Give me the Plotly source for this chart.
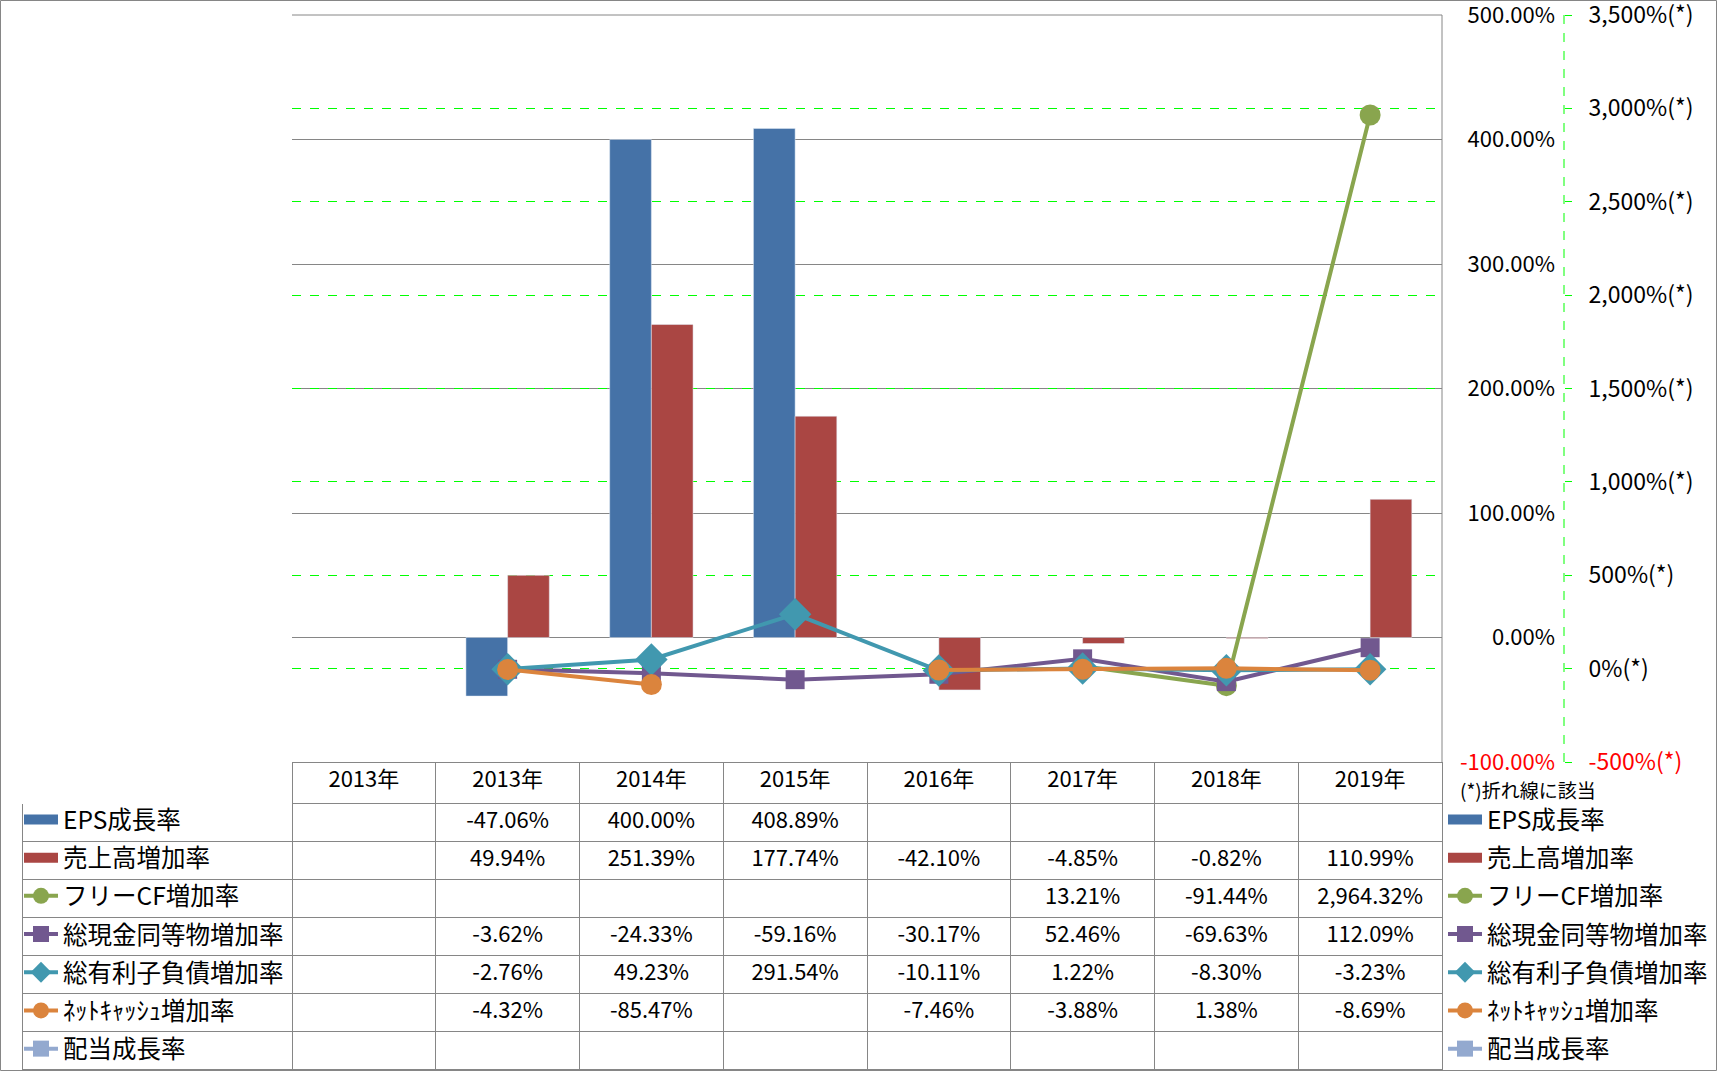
import plotly.graph_objects as go

W, H = 1717, 1071

# ---------------- data ----------------
categories = ["2013年", "2013年", "2014年", "2015年", "2016年", "2017年", "2018年", "2019年"]
eps_growth = [None, -47.06, 400.00, 408.89, None, None, None, None]
sales_growth = [None, 49.94, 251.39, 177.74, -42.10, -4.85, -0.82, 110.99]
fcf_growth = [None, None, None, None, None, 13.21, -91.44, 2964.32]
cash_growth = [None, -3.62, -24.33, -59.16, -30.17, 52.46, -69.63, 112.09]
debt_growth = [None, -2.76, 49.23, 291.54, -10.11, 1.22, -8.30, -3.23]
netcash_growth = [None, -4.32, -85.47, None, -7.46, -3.88, 1.38, -8.69]
dividend_growth = [None, None, None, None, None, None, None, None]

names = ["EPS成長率", "売上高増加率", "フリーCF増加率", "総現金同等物増加率",
         "総有利子負債増加率", "ﾈｯﾄｷｬｯｼｭ増加率", "配当成長率"]
series = [eps_growth, sales_growth, fcf_growth, cash_growth,
          debt_growth, netcash_growth, dividend_growth]

y1_ticks = [-100, 0, 100, 200, 300, 400, 500]
y2_ticks = [-500, 0, 500, 1000, 1500, 2000, 2500, 3000, 3500]

# ---------------- style ----------------
colors = ["#4572A7", "#AA4643", "#89A54E", "#71588F", "#4198AF", "#DB843D", "#93A9CF"]
symbols = [None, None, "circle", "square", "diamond", "circle", "square"]
msizes = [None, None, 21, 19, 25, 21, 19]
FONT = "Noto Sans CJK JP, Noto Sans, sans-serif"
GRAY = "#868686"
GREEN = "#00FF00"

xpos = list(range(len(categories)))

def px(x):
    return x / W

def py(y):
    return 1 - y / H

plot_l, plot_r, plot_t, plot_b = 292, 1442, 15, 762
HEADER_H, ROW_H = 41, 38
LEG_FONT = 24.5
LEG_GAP = ROW_H - (LEG_FONT * 1.3 + 3) + 0.2
BW = 0.29

fig = go.Figure()

# bars (primary axis)
fig.add_trace(go.Bar(x=xpos, y=eps_growth, marker_color=colors[0], width=BW, offset=-BW,
                     showlegend=False, name=names[0], yaxis="y"))
fig.add_trace(go.Bar(x=xpos, y=sales_growth, marker_color=colors[1], width=BW, offset=0,
                     showlegend=False, name=names[1], yaxis="y"))

def legend_entries(legend_id):
    out = []
    for i, nm in enumerate(names):
        if symbols[i] is None:
            out.append(go.Scatter(x=[None], y=[None], mode="lines", name=nm,
                                  line=dict(color=colors[i], width=13),
                                  legend=legend_id, legendgroup=legend_id + str(i),
                                  yaxis="y2"))
        else:
            out.append(go.Scatter(x=[None], y=[None], mode="lines+markers", name=nm,
                                  line=dict(color=colors[i], width=4),
                                  marker=dict(symbol=symbols[i], size=msizes[i], color=colors[i]),
                                  legend=legend_id, legendgroup=legend_id + str(i),
                                  yaxis="y2"))
    return out

# line series (secondary axis)
for i in range(2, 7):
    fig.add_trace(go.Scatter(x=xpos, y=series[i], mode="lines+markers", name=names[i],
                             line=dict(color=colors[i], width=4),
                             marker=dict(symbol=symbols[i], size=msizes[i], color=colors[i]),
                             connectgaps=False, showlegend=False, yaxis="y2"))

for tr in legend_entries("legend"):
    fig.add_trace(tr)
for tr in legend_entries("legend2"):
    fig.add_trace(tr)

# ---------------- table ----------------
def fmt(v):
    return "" if v is None else f"{v:,.2f}%"

table_cols = [[""] * len(names)]
for j in range(len(categories)):
    table_cols.append([fmt(series[k][j]) for k in range(len(names))])

col_w = (plot_r - plot_l) / len(categories)
fig.add_trace(go.Table(
    domain=dict(x=[px(22), px(plot_r)], y=[0, py(plot_b)]),
    columnwidth=[plot_l - 22] + [col_w] * len(categories),
    header=dict(values=[""] + categories, height=HEADER_H,
                line=dict(color=["white"] + [GRAY] * len(categories), width=1),
                fill=dict(color="white"), align="center",
                font=dict(family=FONT, size=22, color="black")),
    cells=dict(values=table_cols, height=ROW_H,
               line=dict(color=GRAY, width=1), fill=dict(color="white"),
               align="center", font=dict(family=FONT, size=22, color="black")),
))

# ---------------- axes ----------------
y1_text = [f"{v:.2f}%" for v in y1_ticks]
y1_text[0] = f"<span style='color:red'>{y1_text[0]}</span>"
y2_text = [f"{v:,}%(*)" for v in y2_ticks]
y2_text[0] = f"<span style='color:red'>{y2_text[0]}</span>"

leg_top = plot_b + HEADER_H - 6

fig.update_layout(
    width=W, height=H, margin=dict(l=0, r=0, t=0, b=0, autoexpand=False),
    paper_bgcolor="white", plot_bgcolor="white",
    barmode="overlay",
    font=dict(family=FONT, size=22, color="black"),
    xaxis=dict(domain=[px(plot_l), px(plot_r)], range=[-0.5, len(categories) - 0.5],
               showticklabels=False, showgrid=False, zeroline=False, ticks="",
               fixedrange=True),
    yaxis=dict(domain=[py(plot_b), py(plot_t)], range=[-100, 500],
               tickvals=y1_ticks, ticktext=y1_text, ticklabeloverflow="allow",
               anchor="free", side="left", position=px(1555), automargin=False,
               showgrid=True, gridcolor=GRAY, gridwidth=1, zeroline=False,
               showline=False, ticks="", tickfont=dict(family=FONT, size=22, color="black")),
    yaxis2=dict(overlaying="y", range=[-500, 3500], tickvals=y2_ticks, ticktext=y2_text,
                ticklabeloverflow="allow", automargin=False,
                anchor="free", side="right", position=px(1564),
                showgrid=True, gridcolor=GREEN, gridwidth=1, griddash="dash",
                zeroline=False, showline=False, ticks="outside", ticklen=7,
                tickcolor=GREEN, tickwidth=1, ticklabelstandoff=12,
                tickfont=dict(family=FONT, size=23, color="black")),
    legend=dict(x=px(19), y=py(leg_top), xanchor="left", yanchor="top",
                bgcolor="rgba(0,0,0,0)", borderwidth=0, traceorder="grouped",
                tracegroupgap=LEG_GAP, itemwidth=34,
                font=dict(family=FONT, size=LEG_FONT, color="black")),
    legend2=dict(x=px(1443), y=py(leg_top), xanchor="left", yanchor="top",
                 bgcolor="rgba(0,0,0,0)", borderwidth=0, traceorder="grouped",
                 tracegroupgap=LEG_GAP, itemwidth=34,
                 font=dict(family=FONT, size=LEG_FONT, color="black")),
    showlegend=True,
    shapes=[
        dict(type="rect", xref="paper", yref="paper", x0=0.5 / W, x1=1 - 0.5 / W,
             y0=0.5 / H, y1=1 - 0.5 / H, line=dict(color=GRAY, width=1)),
        dict(type="line", xref="paper", yref="paper", x0=px(plot_l), x1=px(plot_r),
             y0=py(plot_t), y1=py(plot_t), line=dict(color=GRAY, width=1)),
        dict(type="line", xref="paper", yref="paper", x0=px(plot_r), x1=px(plot_r),
             y0=py(plot_b), y1=py(plot_t), line=dict(color=GRAY, width=1)),
        dict(type="line", xref="paper", yref="paper", x0=px(1564), x1=px(1564),
             y0=py(plot_b), y1=py(plot_t), line=dict(color=GREEN, width=1, dash="dash")),
    ],
    annotations=[
        dict(text="(*)折れ線に該当", xref="paper", yref="paper", x=px(1458), y=py(789),
             xanchor="left", yanchor="middle", showarrow=False,
             font=dict(family=FONT, size=19, color="black")),
    ],
)

# Make the graph the only thing on the page, flush with its top-left corner.
pin_script = """
(function(){
  var gd = document.getElementById('{plot_id}');
  function tidy(){
    var de = document.documentElement, b = document.body;
    [de, b].forEach(function(e){
      e.style.margin = '0'; e.style.padding = '0'; e.style.overflow = 'hidden';
    });
    if (gd.parentNode !== b) { b.appendChild(gd); }
    Array.prototype.slice.call(b.childNodes).forEach(function(n){
      if (n !== gd) { b.removeChild(n); }
    });
    gd.style.margin = '0';
    window.scrollTo(0, 0);
  }
  tidy();
  window.addEventListener('load', tidy);
})();
"""
fig.write_html("out.html", config={"displayModeBar": False}, post_script=pin_script)
